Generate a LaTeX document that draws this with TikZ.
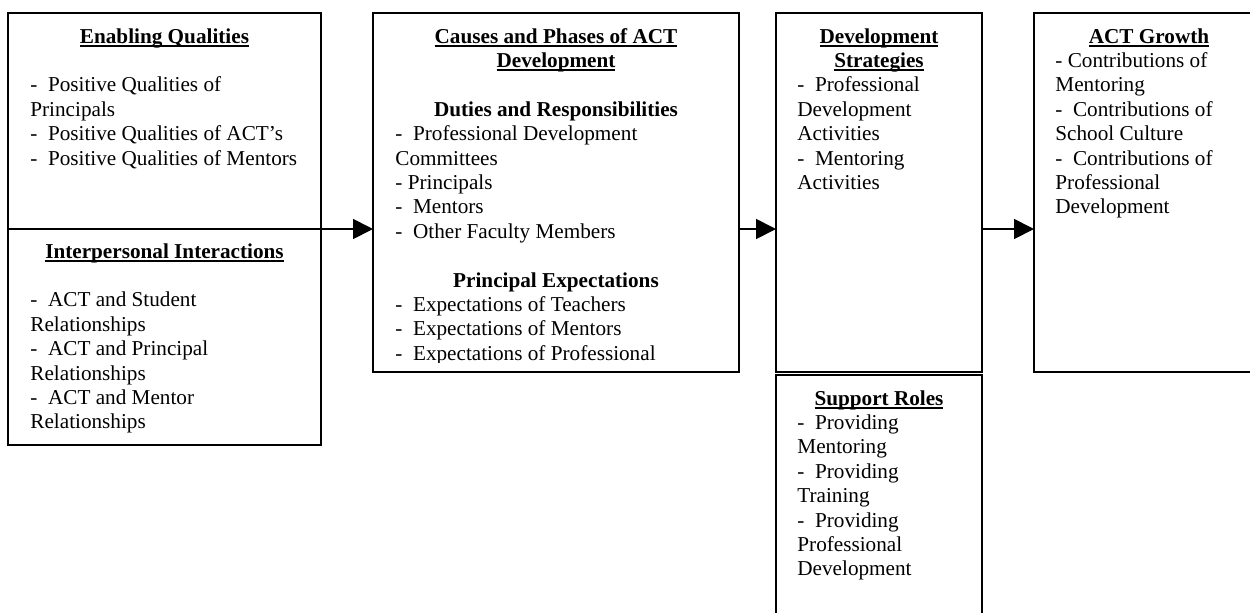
\documentclass[tikz,border=0pt]{standalone}
\usepackage{fontspec}
\setmainfont{Liberation Serif}
\usetikzlibrary{arrows.meta,positioning}
\newcommand{\ttl}[1]{\leavevmode\setbox0\hbox{\bfseries #1}\rlap{\rule[-1.8pt]{\wd0}{0.9pt}}\box0}
\newcommand{\dd}{-\ \ }
\tikzset{>={Triangle[length=10pt,width=10pt]}}
\tikzset{
  panel/.style={draw, line width=0.9pt, anchor=north west, inner sep=0pt, outer sep=0pt},
  head/.style={anchor=base, inner sep=0pt, text width=200pt, align=flush center,
    font=\fontsize{10.6pt}{12.2pt}\selectfont\bfseries},
  items/.style={anchor=base west, inner sep=0pt, text width=200pt, align=flush left,
    font=\fontsize{10.6pt}{12.2pt}\selectfont}
}

\begin{document}
\begin{tikzpicture}[x=0.5pt,y=-0.5pt]
  \pgfmathsetmacro{\gap}{12.2};
  \useasboundingbox (0,0) rectangle (1250,612);
  \node[panel, minimum width=156.5pt, minimum height=108pt] (enabling) at (8,13) {};
  \node[panel, minimum width=156.5pt, minimum height=108pt] (interp) at (8,229) {};
  \node[panel, minimum width=183pt, minimum height=179.5pt] (causes) at (373,13) {};
  \node[panel, minimum width=103pt, minimum height=179.5pt] (strategies) at (776,13) {};
  \node[panel, minimum width=103pt, minimum height=132.5pt] (support) at (776,375) {};
  \node[panel, minimum width=115pt, minimum height=179.5pt] (growth) at (1034,13) {};

  \node[head] (enablinghead) at ([yshift=-15pt]enabling.north) {\ttl{Enabling Qualities}};
  \node[items] (enablinglist) at ([xshift=11pt,yshift=-2*\gap pt]enablinghead.base -| enabling.west) {
    \dd Positive Qualities of\\
    Principals\\
    \dd Positive Qualities of ACT's\\
    \dd Positive Qualities of Mentors};

  \node[head] (interphead) at ([yshift=-14.5pt]interp.north) {\ttl{Interpersonal Interactions}};
  \node[items] (interplist) at ([xshift=11pt,yshift=-2*\gap pt]interphead.base -| interp.west) {
    \dd ACT and Student\\
    Relationships\\
    \dd ACT and Principal\\
    Relationships\\
    \dd ACT and Mentor\\
    Relationships};

  \node[head] (causeshead) at ([yshift=-15pt]causes.north) {\ttl{Causes and Phases of ACT}\\\ttl{Development}};
  \node[head] (duties) at ([yshift=-3*\gap pt]causeshead.base) {Duties and Responsibilities};
  \node[items] (dutieslist) at ([xshift=11pt,yshift=-\gap pt]duties.base -| causes.west) {
    \dd Professional Development\\
    Committees\\
    - Principals\\
    \dd Mentors\\
    \dd Other Faculty Members};
  \node[head] (expect) at ([yshift=-7*\gap pt]duties.base) {Principal Expectations};
  \begin{scope}
    \clip (causes.north west) rectangle ([yshift=5pt]causes.south east);
    \node[items] (expectlist) at ([xshift=11pt,yshift=-\gap pt]expect.base -| causes.west) {
      \dd Expectations of Teachers\\
      \dd Expectations of Mentors\\
      \dd Expectations of Professional};
  \end{scope}

  \node[head] (strategieshead) at ([yshift=-15pt]strategies.north) {\ttl{Development}\\\ttl{Strategies}};
  \node[items] (strategieslist) at ([xshift=10.5pt,yshift=-2*\gap pt]strategieshead.base -| strategies.west) {
    \dd Professional\\
    Development\\
    Activities\\
    \dd Mentoring\\
    Activities};

  \node[head] (supporthead) at ([yshift=-15pt]support.north) {\ttl{Support Roles}};
  \node[items] (supportlist) at ([xshift=10.5pt,yshift=-\gap pt]supporthead.base -| support.west) {
    \dd Providing\\
    Mentoring\\
    \dd Providing\\
    Training\\
    \dd Providing\\
    Professional\\
    Development};

  \node[head] (growthhead) at ([yshift=-15pt]growth.north) {\ttl{ACT Growth}};
  \node[items] (growthlist) at ([xshift=10.5pt,yshift=-\gap pt]growthhead.base -| growth.west) {
    - Contributions of\\
    Mentoring\\
    \dd Contributions of\\
    School Culture\\
    \dd Contributions of\\
    Professional\\
    Development};

  \draw[->, line width=0.9pt] (enabling.south east) -- (enabling.south east -| causes.west);
  \draw[->, line width=0.9pt] (causes.east |- enabling.south east) -- (strategies.west |- enabling.south east);
  \draw[->, line width=0.9pt] (strategies.east |- enabling.south east) -- (growth.west |- enabling.south east);
\end{tikzpicture}
\end{document}
